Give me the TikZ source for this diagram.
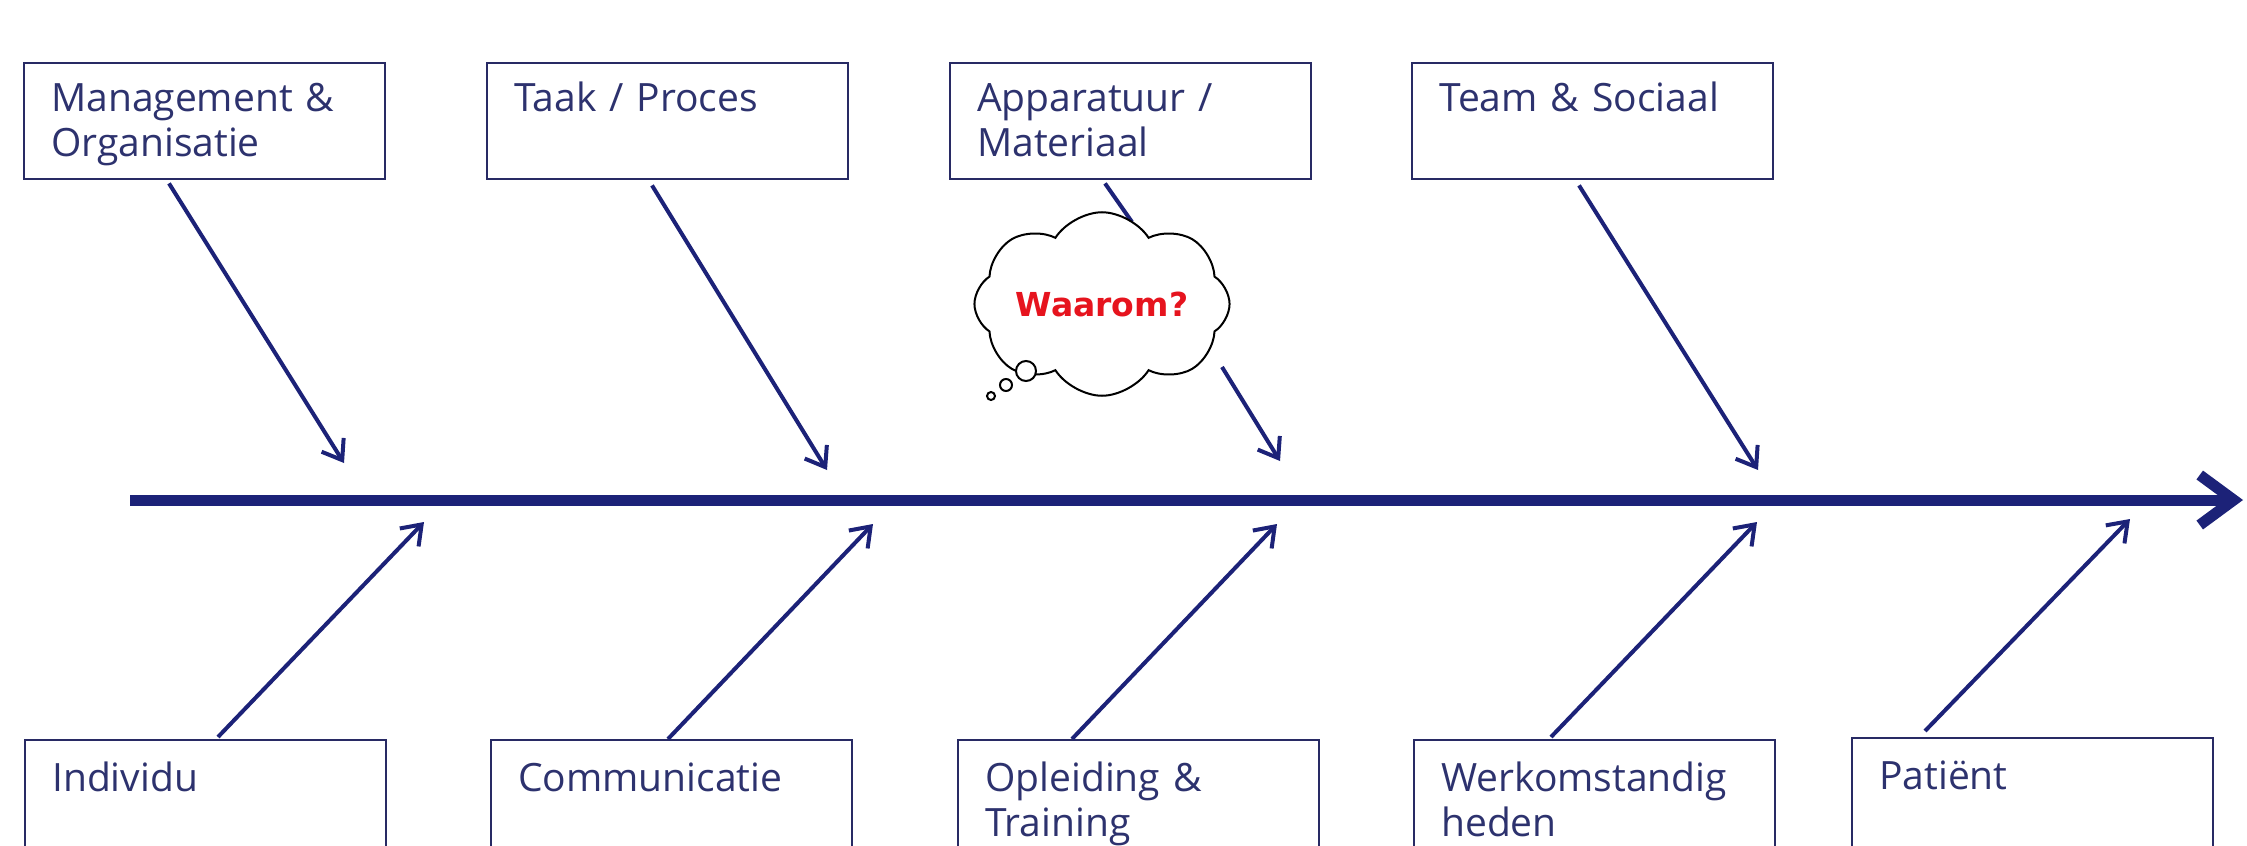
\documentclass[tikz,border=0pt]{standalone}
\usepackage{fontspec}
\setmainfont{Open Sans}
\newfontfamily\cloudfont{DejaVu Sans}
\usetikzlibrary{arrows.meta,shapes.symbols,calc}
\definecolor{navy}{RGB}{28,34,120}
\definecolor{boxc}{RGB}{40,42,100}
\definecolor{txtc}{RGB}{45,50,110}
\definecolor{wred}{RGB}{230,20,30}
\begin{document}
\begin{tikzpicture}[x=1pt,y=-1pt,
 cat/.style={draw=boxc, line width=2.4pt, fill=white, anchor=north west, align=left,
   inner xsep=27pt, inner ysep=0pt, text width=307pt, text=txtc,
   font=\fontsize{39}{45}\selectfont},
 topcat/.style={cat, text height=48pt, text depth=68pt},
 botcat/.style={cat, text height=51pt, text depth=130pt},
 bone/.style={draw=navy, line width=4pt, -{Straight Barb[length=18pt,width=26pt]}},
 boneplain/.style={draw=navy, line width=4pt},
 spine/.style={draw=navy, line width=11pt, -{Straight Barb[length=34pt,width=50pt]}},
 bubble/.style={draw=black, line width=2pt, fill=white},
]
\useasboundingbox (0,0) rectangle (2247,846);
\clip (0,0) rectangle (2247,846);
\fill[white] (0,0) rectangle (2247,846);

% spine
\coordinate (sp0) at (130,500);
\coordinate (sp1) at (2243,500);
\draw[spine] (sp0) -- (sp1);

% top boxes
\node[topcat] (m) at (23,62) {Management \&\\Organisatie};
\node[topcat] (t) at (486,62) {Taak / Proces};
\node[topcat] (a) at (949,62) {Apparatuur /\\Materiaal};
\node[topcat] (s) at (1411,62) {Team \& Sociaal};

% bottom boxes
\node[botcat] (i) at (24,739) {Individu};
\node[botcat] (c) at (490,739) {Communicatie};
\node[botcat] (o) at (957,739) {Opleiding \&\\Training};
\node[botcat] (w) at (1413,739) {Werkomstandig\\heden};
\node[botcat] (p) at (1851,737) {Patiënt};

% top bones
\coordinate (me) at (344,463);
\coordinate (te) at (827,470);
\coordinate (aA) at (1132,222);
\coordinate (aB) at (1222,367);
\coordinate (ae) at (1280,461);
\coordinate (se) at (1758,470);
\draw[bone] ($(m.south west)+(146,3)$) -- (me);
\draw[bone] ($(t.south west)+(166,5)$) -- (te);
\draw[boneplain] ($(a.south west)+(156,3)$) -- (aA);
\draw[bone] (aB) -- (ae);
\draw[bone] ($(s.south west)+(168,5)$) -- (se);

% bottom bones
\coordinate (ie) at (424,522);
\coordinate (ce) at (873,524);
\coordinate (oe) at (1277,524);
\coordinate (we) at (1757,522);
\coordinate (pe) at (2130,519);
\draw[bone] ($(i.north west)+(194,-2)$) -- (ie);
\draw[bone] ($(c.north west)+(178,0)$) -- (ce);
\draw[bone] ($(o.north west)+(115,0)$) -- (oe);
\draw[bone] ($(w.north west)+(138,-2)$) -- (we);
\draw[bone] ($(p.north west)+(74,-6)$) -- (pe);

% thought cloud
\node[cloud, cloud puffs=8, cloud puff arc=115, aspect=1.7, draw=black, line width=2pt,
  fill=white, minimum width=234pt, minimum height=132pt, inner sep=0pt,
  font=\cloudfont\bfseries\fontsize{33}{36}\selectfont, text=wred] (why) at (1102,304) {Waarom?};
\node[bubble, circle, minimum size=20pt, inner sep=0pt] (b1) at (1026,371) {};
\node[bubble, circle, minimum size=12pt, inner sep=0pt] (b2) at (1006,385) {};
\node[bubble, circle, minimum size=8pt, inner sep=0pt] (b3) at (991,396) {};
\end{tikzpicture}
\end{document}
